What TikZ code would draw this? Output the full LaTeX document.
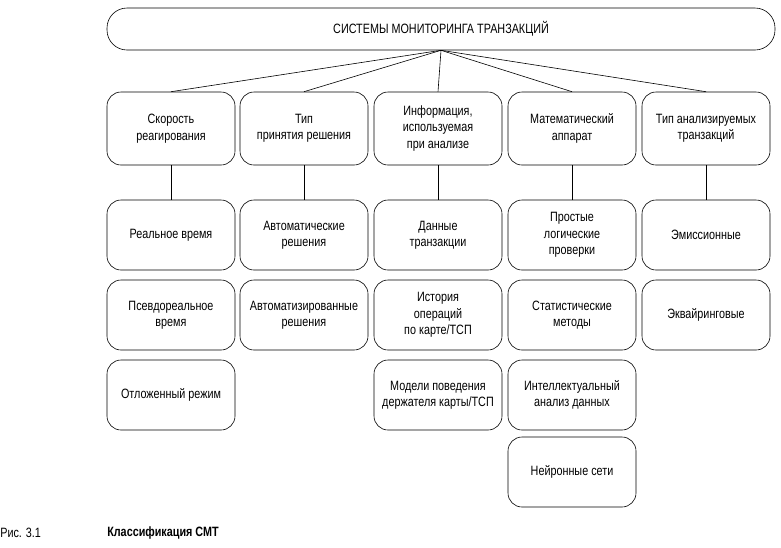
\documentclass[tikz,border=0pt]{standalone}
\usepackage{fontspec}
\setmainfont{Liberation Sans}[FakeStretch=0.8]
\usetikzlibrary{positioning}
\tikzset{
  box/.style={draw,rounded corners=14pt,minimum width=128pt,minimum height=70pt,align=center,font=\fontsize{13.5}{16.5}\selectfont,inner sep=1pt},
  cat/.style={box,minimum height=73pt},
  link/.style={draw,semithick}
}
\begin{document}
\begin{tikzpicture}[x=1pt,y=-1pt,semithick]
\useasboundingbox (0,0) rectangle (781,547);
\node[draw,rounded corners=20pt,minimum width=668pt,minimum height=42pt,font=\fontsize{13.5}{16}\selectfont] (top) at (441,29) {СИСТЕМЫ МОНИТОРИНГА ТРАНЗАКЦИЙ};
% categories
\node[cat] (speed) at (171,128.5) {Скорость\\реагирования};
\node[cat] (kind) at (304,128.5) {Тип\\принятия решения};
\node[cat] (info) at (438,128.5) {Информация,\\используемая\\при анализе};
\node[cat] (math) at (572,128.5) {Математический\\аппарат};
\node[cat] (trans) at (706,128.5) {Тип анализируемых\\транзакций};
\foreach \c in {speed,kind,info,math,trans}
  \draw[link] (top.south) -- (\c.north);
% items
\node[box] (real) at (171,235) {Реальное время};
\node[box] (pseudo) at (171,315) {Псевдореальное\\время};
\node[box] (delay) at (171,395) {Отложенный режим};
\node[box] (auto) at (304,235) {Автоматические\\решения};
\node[box] (semi) at (304,315) {Автоматизированные\\решения};
\node[box] (data) at (438,235) {Данные\\транзакции};
\node[box] (hist) at (438,315) {История\\операций\\по карте/ТСП};
\node[box] (model) at (438,395) {Модели поведения\\держателя карты/ТСП};
\node[box] (logic) at (572,235) {Простые\\логические\\проверки};
\node[box] (stat) at (572,315) {Статистические\\методы};
\node[box] (mining) at (572,395) {Интеллектуальный\\анализ данных};
\node[box] (neuro) at (572,472) {Нейронные сети};
\node[box] (emis) at (706,235) {Эмиссионные};
\node[box] (acq) at (706,315) {Эквайринговые};
\draw[link] (speed) -- (real);
\draw[link] (kind) -- (auto);
\draw[link] (info) -- (data);
\draw[link] (math) -- (logic);
\draw[link] (trans) -- (emis);
% caption
\node[anchor=west,inner sep=0pt,font=\fontsize{13.5}{16}\selectfont] (fig) at (0,533) {Рис. 3.1};
\node[anchor=west,inner sep=0pt,font=\fontsize{13.5}{16}\selectfont\bfseries] (title) at (107,533) {Классификация СМТ};
\end{tikzpicture}
\end{document}
